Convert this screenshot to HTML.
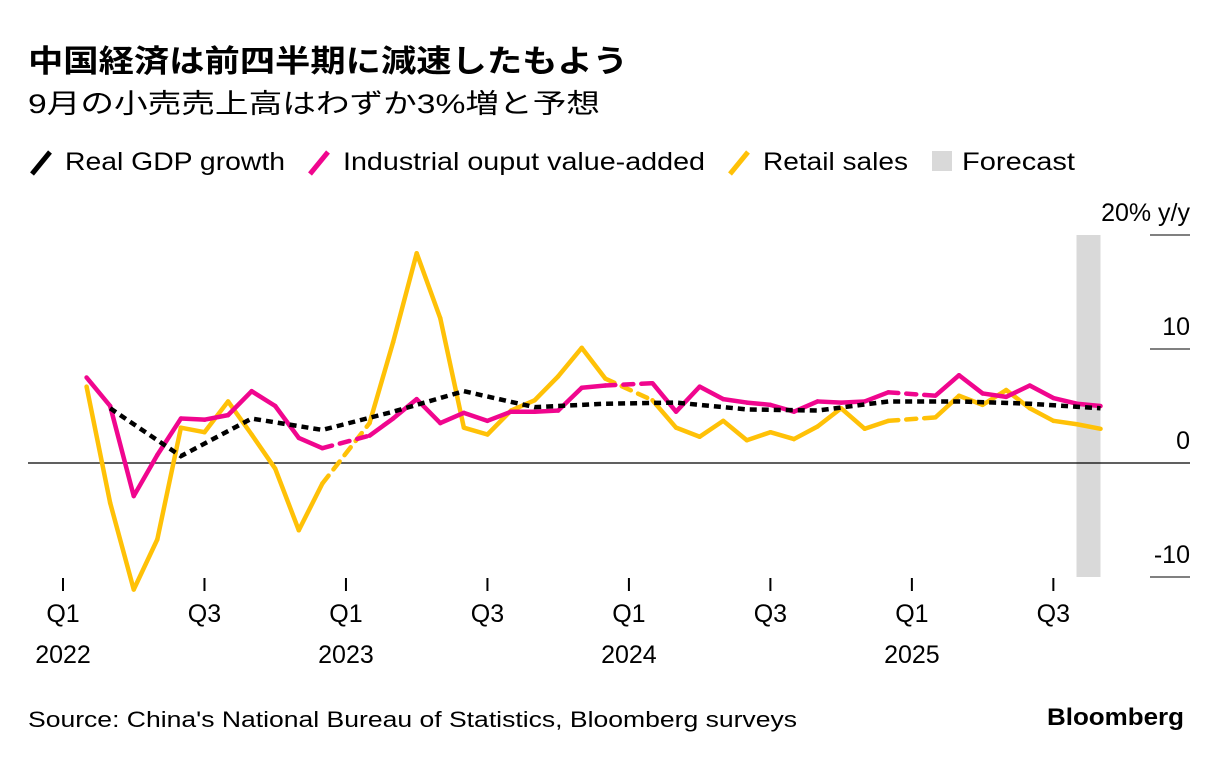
<!DOCTYPE html>
<html><head><meta charset="utf-8"><style>
body{margin:0;background:#fff;font-family:"Liberation Sans","Noto Sans CJK JP",sans-serif;color:#000}
</style></head><body>
<svg width="1223" height="760" viewBox="0 0 1223 760" xmlns="http://www.w3.org/2000/svg" style="font-family:'Liberation Sans','Noto Sans CJK JP',sans-serif">
<text x="28" y="72" font-size="31" font-weight="bold" textLength="600" lengthAdjust="spacingAndGlyphs">中国経済は前四半期に減速したもよう</text>
<text x="28" y="113" font-size="27" textLength="572" lengthAdjust="spacingAndGlyphs">9月の小売売上高はわずか3%増と予想</text>
<g font-size="25">
<g><line x1="32" y1="174" x2="50" y2="152" stroke="#000" stroke-width="5"/><text x="65" y="170" textLength="220" lengthAdjust="spacingAndGlyphs">Real GDP growth</text></g>
<g><line x1="310" y1="174" x2="328" y2="152" stroke="#f0068e" stroke-width="5"/><text x="343" y="170" textLength="362" lengthAdjust="spacingAndGlyphs">Industrial ouput value-added</text></g>
<g><line x1="730" y1="174" x2="748" y2="152" stroke="#ffc107" stroke-width="5"/><text x="763" y="170" textLength="145" lengthAdjust="spacingAndGlyphs">Retail sales</text></g>
<g><rect x="932" y="151" width="20" height="20" fill="#d9d9d9"/><text x="962" y="170" textLength="113" lengthAdjust="spacingAndGlyphs">Forecast</text></g>
</g>
<g id="plot"></g>
<text x="28" y="727" font-size="22" textLength="769" lengthAdjust="spacingAndGlyphs">Source: China's National Bureau of Statistics, Bloomberg surveys</text>
<text x="1047" y="725" font-size="24" font-weight="bold" textLength="137" lengthAdjust="spacingAndGlyphs">Bloomberg</text>
</svg>
<script>
const gdpMonths=[2,5,8,11,14,17,20,23,26,29,32,35,38,41,44];
const gdpValues=[4.8,0.6,3.9,2.9,4.5,6.3,4.9,5.2,5.3,4.7,4.6,5.4,5.4,5.2,4.8];
const indMonths=[1,2,3,4,5,6,7,8,9,10,11,13,14,15,16,17,18,19,20,21,22,23,25,26,27,28,29,30,31,32,33,34,35,37,38,39,40,41,42,43,44];
const indValues=[7.5,5.0,-2.9,0.7,3.9,3.8,4.2,6.3,5.0,2.2,1.3,2.4,3.9,5.6,3.5,4.4,3.7,4.5,4.5,4.6,6.6,6.8,7.0,4.5,6.7,5.6,5.3,5.1,4.5,5.4,5.3,5.4,6.2,5.9,7.7,6.1,5.8,6.8,5.7,5.2,5.0];
const retMonths=indMonths;
const retValues=[6.7,-3.5,-11.1,-6.7,3.1,2.7,5.4,2.5,-0.5,-5.9,-1.8,3.5,10.6,18.4,12.7,3.1,2.5,4.6,5.5,7.6,10.1,7.4,5.5,3.1,2.3,3.7,2.0,2.7,2.1,3.2,4.8,3.0,3.7,4.0,5.9,5.1,6.4,4.8,3.7,3.4,3.0];
const yTicks=[-10,0,10,20];
const yTickLabels=["-10","0","10","20% y/y"];
const xTickMonths=[0,6,12,18,24,30,36,42];
const xTickLabels=["Q1","Q3","Q1","Q3","Q1","Q3","Q1","Q3"];
const yearLabels=["2022","","2023","","2024","","2025",""];
const forecastMonth=44;

const NS="http://www.w3.org/2000/svg";
const plot=document.getElementById('plot');
const X=m=>63+m*23.58;
const Y=v=>463-v*11.4;
function mk(tag,attrs,parent){const e=document.createElementNS(NS,tag);for(const k in attrs)e.setAttribute(k,attrs[k]);(parent||plot).appendChild(e);return e;}

const band=mk('rect',{x:X(forecastMonth)-24,y:Y(20),width:24,height:Y(-10)-Y(20),fill:'#d9d9d9'});



yTicks.forEach((t,i)=>{
  const g=mk('line',{x1:1150,x2:1190,y1:Y(t),y2:Y(t),stroke:'#000','stroke-width':1});
  
  
  const tx=mk('text',{x:1190,y:Y(t)-14,'font-size':25,'text-anchor':'end'});
  tx.textContent=yTickLabels[i];
  
  
});
const zl=mk('line',{x1:28,x2:1190,y1:Y(0),y2:Y(0),stroke:'#000','stroke-width':1.2});



xTickMonths.forEach((m,i)=>{
  const l=mk('line',{x1:X(m),x2:X(m),y1:578,y2:591,stroke:'#000','stroke-width':2});
  
  
  const t=mk('text',{x:X(m),y:622,'font-size':25,'text-anchor':'middle'});
  t.textContent=xTickLabels[i];
  
  
  if(yearLabels[i]){const y=mk('text',{x:X(m),y:663,'font-size':25,'text-anchor':'middle'});y.textContent=yearLabels[i];
  
  }
});

function series(months,vals,color,name){
  for(let i=1;i<months.length;i++){
    const gap=months[i]-months[i-1]>1;
    const attrs={x1:X(months[i-1]),y1:Y(vals[i-1]),x2:X(months[i]),y2:Y(vals[i]),stroke:color,'stroke-width':4.5,'stroke-linecap':'round'};
    if(gap)attrs['stroke-dasharray']='10 8';
    const l=mk('line',attrs);
    
    
  }
}
series(retMonths,retValues,'#ffc107','retail-sales');
series(indMonths,indValues,'#f0068e','industrial-output');
const pts=gdpMonths.map((m,i)=>X(m)+','+Y(gdpValues[i])).join(' ');
const gl=mk('polyline',{points:pts,fill:'none',stroke:'#000','stroke-width':4.5,'stroke-dasharray':'7 5'});


</script>
</body></html>
